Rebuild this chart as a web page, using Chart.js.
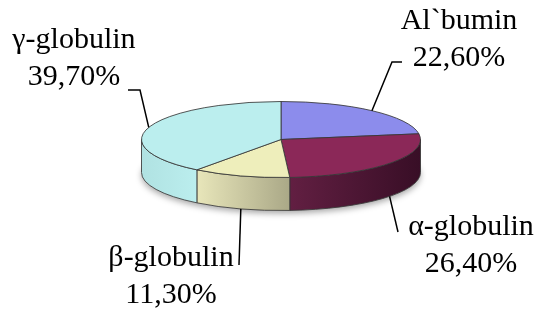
<!DOCTYPE html>
<html><head><meta charset="utf-8">
<script src="https://cdn.jsdelivr.net/npm/chart.js@4.4.0/dist/chart.umd.min.js"></script>
<style>
html,body{margin:0;padding:0;background:#fff;overflow:hidden}
#wrap{position:relative;width:539px;height:310px}
#c{position:absolute;left:0;top:0}
.lbl{position:absolute;transform:translateX(-50%);white-space:nowrap;text-align:center;
  font-family:'Liberation Serif','Times New Roman',serif;font-size:30px;line-height:37px;color:#000}
</style>
</head><body>
<div id="wrap"><canvas id="c" width="539" height="310"></canvas></div>
<script>
const categories = ['Al`bumin', 'α-globulin', 'β-globulin', 'γ-globulin'];
const values = [22.6, 26.4, 11.3, 39.7];
const valueLabels = ['22,60%', '26,40%', '11,30%', '39,70%'];

const topColors = ['#8C8CEC', '#8B2858', '#EEEEBB', '#BBEEEE'];
const sideLeft  = ['#6C6CC0', '#621F42', '#E8E6BA', '#B0E2E2'];
const sideRight = ['#5050A0', '#380E26', '#AAA887', '#BBEEEE'];

// label layout: text centre x, first baseline y
const labelPos = [{x: 459, y: 29}, {x: 471, y: 235}, {x: 171, y: 266}, {x: 74, y: 48}];
// leader line bend points (from arc anchor to label)
const leaderPts = [
  [[392, 62], [402, 62]],
  [[398, 232]],
  [[239, 265]],
  [[140, 90], [128, 90]]
];

const SQUASH = 0.2724;
const DEPTH = 33;
const BASELINE_OFFSET = 28.6;

const pie3d = {
  id: 'pie3d',
  beforeDatasetsDraw(chart) {
    const ctx = chart.ctx;
    const arcs = chart.getDatasetMeta(0).data;
    const cx = arcs[0].x, cy = arcs[0].y;
    const rx = arcs[0].outerRadius, ry = rx * SQUASH;
    ctx.save();
    ctx.save();
    ctx.shadowColor = 'rgba(0,0,0,0.35)';
    ctx.shadowBlur = 6;
    ctx.shadowOffsetY = 3;
    ctx.fillStyle = '#ffffff';
    ctx.beginPath();
    ctx.ellipse(cx, cy + DEPTH, rx, ry, 0, 0, Math.PI * 2);
    ctx.fill();
    ctx.restore();

    ctx.lineWidth = 1;
    ctx.strokeStyle = 'rgba(55,55,55,0.85)';
    arcs.forEach((arc, i) => {
      const ranges = [[0, Math.PI], [Math.PI * 2, Math.PI * 3]];
      ranges.forEach(([lo, hi]) => {
        const a0 = Math.max(arc.startAngle, lo);
        const a1 = Math.min(arc.endAngle, hi);
        if (a1 <= a0) return;
        const x0 = cx + rx * Math.cos(a0), x1 = cx + rx * Math.cos(a1);
        const g = ctx.createLinearGradient(Math.min(x0, x1), 0, Math.max(x0, x1), 0);
        g.addColorStop(0, sideLeft[i]);
        g.addColorStop(1, sideRight[i]);
        ctx.beginPath();
        ctx.ellipse(cx, cy, rx, ry, 0, a0, a1, false);
        ctx.lineTo(cx + rx * Math.cos(a1), cy + ry * Math.sin(a1) + DEPTH);
        ctx.ellipse(cx, cy + DEPTH, rx, ry, 0, a1, a0, true);
        ctx.closePath();
        ctx.fillStyle = g;
        ctx.fill();
        ctx.stroke();
      });
    });

    arcs.forEach((arc, i) => {
      ctx.beginPath();
      ctx.moveTo(cx, cy);
      ctx.ellipse(cx, cy, rx, ry, 0, arc.startAngle, arc.endAngle, false);
      ctx.closePath();
      ctx.fillStyle = topColors[i];
      ctx.fill();
      ctx.stroke();
    });
    ctx.restore();
    return false;
  },
  afterDraw(chart) {
    const ctx = chart.ctx;
    const arcs = chart.getDatasetMeta(0).data;
    const cx = arcs[0].x, cy = arcs[0].y;
    const rx = arcs[0].outerRadius, ry = rx * SQUASH;
    ctx.save();
    ctx.strokeStyle = '#000';
    ctx.lineWidth = 1.5;
    arcs.forEach((arc, i) => {
      const mid = (arc.startAngle + arc.endAngle) / 2;
      const s = Math.sin(mid);
      const ax = cx + rx * Math.cos(mid);
      const ay = cy + ry * s + (s > 0 ? DEPTH : 0);
      ctx.beginPath();
      ctx.moveTo(ax, ay);
      leaderPts[i].forEach(p => ctx.lineTo(p[0], p[1]));
      ctx.stroke();
    });
    ctx.restore();

    const wrap = document.getElementById('wrap');
    wrap.querySelectorAll('.lbl').forEach(e => e.remove());
    categories.forEach((c, i) => {
      const p = labelPos[i];
      const d = document.createElement('div');
      d.className = 'lbl';
      d.style.left = p.x + 'px';
      d.style.top = (p.y - BASELINE_OFFSET) + 'px';
      d.appendChild(document.createTextNode(c));
      d.appendChild(document.createElement('br'));
      d.appendChild(document.createTextNode(valueLabels[i]));
      wrap.appendChild(d);
    });
  }
};

new Chart(document.getElementById('c'), {
  type: 'pie',
  data: {
    labels: categories,
    datasets: [{ data: values, backgroundColor: topColors, borderWidth: 0 }]
  },
  options: {
    responsive: false,
    animation: false,
    events: [],
    layout: { padding: { left: 141.5, right: 118.5, top: 0, bottom: 31 } },
    plugins: { legend: { display: false }, tooltip: { enabled: false } }
  },
  plugins: [pie3d]
});
</script>
</body></html>
